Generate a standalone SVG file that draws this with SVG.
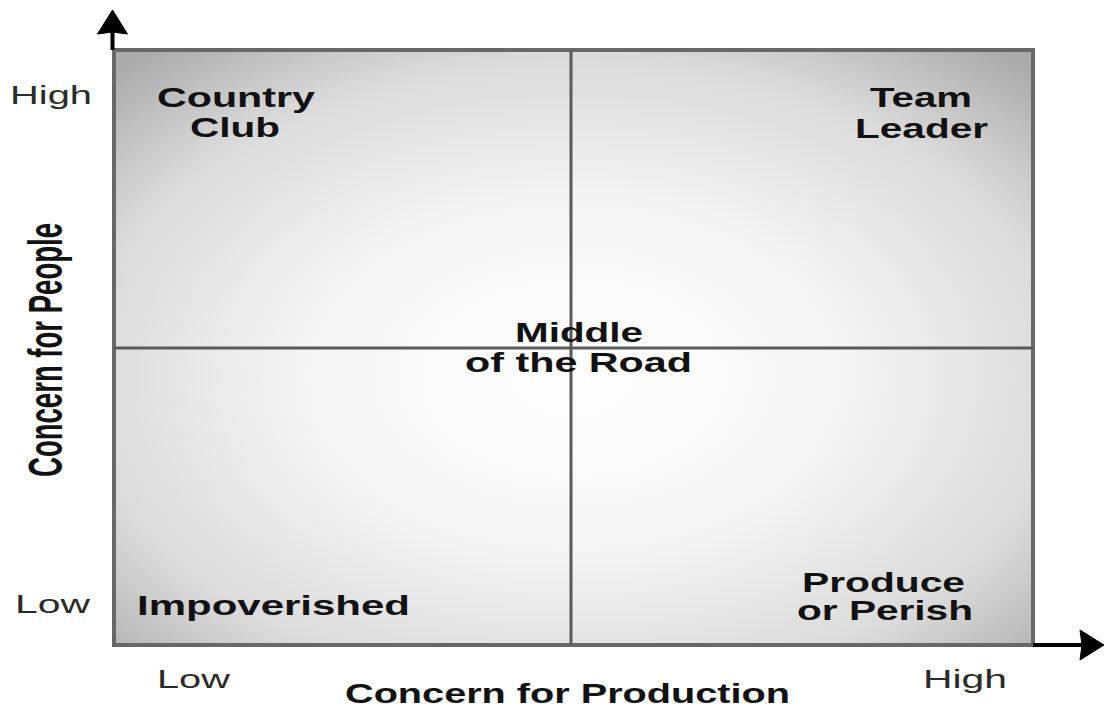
<svg xmlns="http://www.w3.org/2000/svg" width="1106" height="707" viewBox="0 0 1106 707">
  <style>
    .tick { font-family: "Liberation Sans", Arial, sans-serif; font-size: 25px; fill: #2a2a2a; }
    .style { font-family: "Liberation Sans", Arial, sans-serif; font-size: 27px; font-weight: bold; fill: #111; }
    .axis-title { font-family: "Liberation Sans", Arial, sans-serif; font-size: 28px; font-weight: bold; fill: #111; }
    .frame { fill: url(#panelShade); stroke: #686868; stroke-width: 4; }
    .divider { stroke: #5a5a5a; stroke-width: 3; fill: none; }
    .axis { stroke: #000; stroke-width: 4; fill: none; }
  </style>
  <defs>
    <radialGradient id="panelShade" cx="0.5" cy="0.55" r="0.72">
      <stop offset="0" stop-color="#ffffff"/>
      <stop offset="0.4" stop-color="#f5f5f5"/>
      <stop offset="0.75" stop-color="#dadada"/>
      <stop offset="1" stop-color="#aaaaaa"/>
    </radialGradient>
    <marker id="arrowHead" viewBox="0 0 24 30" refX="20" refY="15" markerWidth="24" markerHeight="30" markerUnits="userSpaceOnUse" orient="auto" overflow="visible">
      <path d="M0,0 L24,15 L0,30 L2,15 Z" fill="#000" stroke="#000" stroke-width="1" stroke-linejoin="miter"/>
    </marker>
  </defs>

  <!-- grid panel -->
  <g id="panel">
    <rect class="frame" x="114" y="50" width="919" height="595"/>
    <line class="divider" x1="571" y1="50" x2="571" y2="645"/>
    <line class="divider" x1="114" y1="348" x2="1033" y2="348"/>
  </g>

  <!-- axes -->
  <g id="connectors">
    <line class="axis" x1="112.5" y1="50" x2="112.5" y2="14" marker-end="url(#arrowHead)"/>
    <line class="axis" x1="1033" y1="645" x2="1100" y2="645" marker-end="url(#arrowHead)"/>
  </g>

  <!-- axis scale labels -->
  <g id="axis-labels">
    <text class="tick" x="10" y="104" textLength="82" lengthAdjust="spacingAndGlyphs">High</text>
    <text class="tick" x="15" y="613" textLength="75" lengthAdjust="spacingAndGlyphs">Low</text>
    <text class="tick" x="157" y="688" textLength="73" lengthAdjust="spacingAndGlyphs">Low</text>
    <text class="tick" x="923" y="688" textLength="84" lengthAdjust="spacingAndGlyphs">High</text>
    <text class="axis-title" x="345" y="703" textLength="445" lengthAdjust="spacingAndGlyphs">Concern for Production</text>
    <text class="axis-title" transform="translate(62,477) rotate(-90) scale(1,1.75)" font-size="26" textLength="254" lengthAdjust="spacingAndGlyphs">Concern for People</text>
  </g>

  <!-- management styles -->
  <g id="country-club">
    <text class="style" x="157" y="107" textLength="158" lengthAdjust="spacingAndGlyphs">Country</text>
    <text class="style" x="190" y="137" textLength="90" lengthAdjust="spacingAndGlyphs">Club</text>
  </g>
  <g id="team-leader">
    <text class="style" x="870" y="107" textLength="102" lengthAdjust="spacingAndGlyphs">Team</text>
    <text class="style" x="855" y="138" textLength="133" lengthAdjust="spacingAndGlyphs">Leader</text>
  </g>
  <g id="middle-of-the-road">
    <text class="style" x="515" y="342" textLength="128" lengthAdjust="spacingAndGlyphs">Middle</text>
    <text class="style" x="465" y="372" textLength="227" lengthAdjust="spacingAndGlyphs">of the Road</text>
  </g>
  <g id="impoverished">
    <text class="style" x="137" y="615" textLength="273" lengthAdjust="spacingAndGlyphs">Impoverished</text>
  </g>
  <g id="produce-or-perish">
    <text class="style" x="802" y="592" textLength="163" lengthAdjust="spacingAndGlyphs">Produce</text>
    <text class="style" x="797" y="620" textLength="176" lengthAdjust="spacingAndGlyphs">or Perish</text>
  </g>
</svg>
